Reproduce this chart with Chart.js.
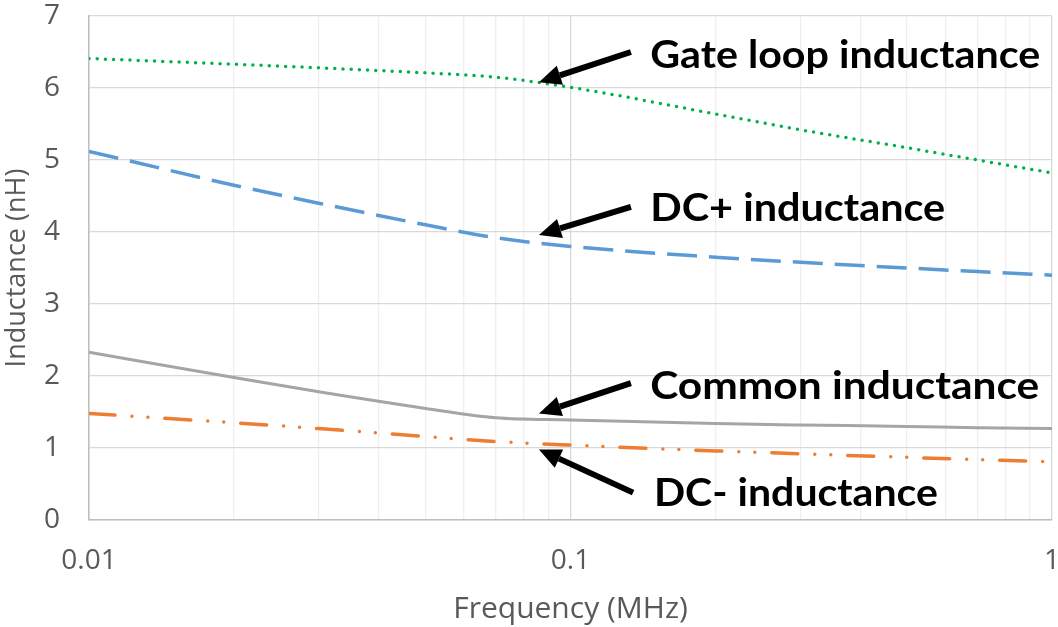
<!DOCTYPE html>
<html>
<head>
<meta charset="utf-8">
<script src="https://cdn.jsdelivr.net/npm/chart.js@4"></script>
<style>
html, body { margin: 0; padding: 0; background: #fff; }
#wrap { width: 1058px; height: 627px; }
</style>
</head>
<body>
<div id="wrap"><canvas id="c"></canvas></div>
<script>
// frequency points (MHz) and inductance values (nH)
const freqs      = [0.01, 0.02, 0.03, 0.05, 0.07, 0.1, 0.2, 0.3, 0.5, 0.7, 1];
const gateLoop   = [6.41, 6.33, 6.28, 6.21, 6.15, 6.01, 5.64, 5.42, 5.17, 5.00, 4.82];
const dcPlus     = [5.12, 4.65, 4.40, 4.10, 3.92, 3.80, 3.65, 3.58, 3.50, 3.45, 3.40];
const common     = [2.33, 1.98, 1.78, 1.55, 1.42, 1.39, 1.34, 1.32, 1.30, 1.28, 1.27];
const dcMinus    = [1.48, 1.35, 1.27, 1.16, 1.09, 1.04, 0.96, 0.92, 0.87, 0.84, 0.81];

// gridlines on the log axis, and the ones that carry a label
const xGrid   = [0.01, 0.02, 0.03, 0.04, 0.05, 0.06, 0.07, 0.08, 0.09,
                 0.1, 0.2, 0.3, 0.4, 0.5, 0.6, 0.7, 0.8, 0.9, 1];
const xLabels = [0.01, 0.1, 1];

// callouts: text anchor, arrow tail and arrow tip, in data units
const notes = [
    { text: 'Gate loop inductance', at: [0.1464, 6.28], from: [0.1335, 6.50], to: [0.086, 6.08], width: 390 },
    { text: 'DC+ inductance',       at: [0.1464, 4.15], from: [0.1335, 4.35], to: [0.086, 3.96], width: 295 },
    { text: 'Common inductance',    at: [0.1464, 1.68], from: [0.1335, 1.90], to: [0.086, 1.48], width: 389 },
    { text: 'DC- inductance',       at: [0.149, 0.20],  from: [0.1349, 0.38], to: [0.086, 0.98], width: 284 }
];

const toXY = vals => freqs.map((f, i) => ({ x: f, y: vals[i] }));

const notePlugin = {
    id: 'notes',
    afterDatasetsDraw(chart) {
        const ctx = chart.ctx;
        const xs = chart.scales.x, ys = chart.scales.y;
        notes.forEach(n => {
            const x0 = xs.getPixelForValue(n.from[0]), y0 = ys.getPixelForValue(n.from[1]);
            const x1 = xs.getPixelForValue(n.to[0]),   y1 = ys.getPixelForValue(n.to[1]);
            const ang = Math.atan2(y1 - y0, x1 - x0);
            const head = 22, half = 10;
            const bx = x1 - head * Math.cos(ang), by = y1 - head * Math.sin(ang);

            ctx.save();
            ctx.strokeStyle = '#000';
            ctx.fillStyle = '#000';
            ctx.lineWidth = 6;
            ctx.beginPath();
            ctx.moveTo(x0, y0);
            ctx.lineTo(bx, by);
            ctx.stroke();
            ctx.beginPath();
            ctx.moveTo(x1, y1);
            ctx.lineTo(bx + half * Math.sin(ang), by - half * Math.cos(ang));
            ctx.lineTo(bx - half * Math.sin(ang), by + half * Math.cos(ang));
            ctx.closePath();
            ctx.fill();

            ctx.font = "bold 39px 'Lato'";
            ctx.textBaseline = 'alphabetic';
            const w = ctx.measureText(n.text).width;
            ctx.translate(xs.getPixelForValue(n.at[0]), ys.getPixelForValue(n.at[1]));
            ctx.scale(n.width / w, 1);
            ctx.fillText(n.text, 0, 0);
            ctx.restore();
        });
    }
};

Chart.defaults.font.family = "'Open Sans', sans-serif";
Chart.defaults.color = '#595959';

new Chart(document.getElementById('c'), {
    type: 'line',
    data: {
        datasets: [
            {
                label: 'Gate loop inductance',
                data: toXY(gateLoop),
                borderColor: '#00B050',
                borderWidth: 3.5,
                borderDash: [0, 8.2],
                borderCapStyle: 'round',
                pointRadius: 0,
                cubicInterpolationMode: 'monotone'
            },
            {
                label: 'DC+ inductance',
                data: toXY(dcPlus),
                borderColor: '#5B9BD5',
                borderWidth: 3.5,
                borderDash: [30, 12],
                pointRadius: 0,
                cubicInterpolationMode: 'monotone'
            },
            {
                label: 'Common inductance',
                data: toXY(common),
                borderColor: '#A5A5A5',
                borderWidth: 3,
                pointRadius: 0,
                cubicInterpolationMode: 'monotone'
            },
            {
                label: 'DC- inductance',
                data: toXY(dcMinus),
                borderColor: '#ED7D31',
                borderWidth: 3.5,
                borderDash: [26, 17, 0, 16, 0, 17],
                borderCapStyle: 'round',
                pointRadius: 0,
                cubicInterpolationMode: 'monotone'
            }
        ]
    },
    options: {
        responsive: true,
        maintainAspectRatio: false,
        animation: false,
        layout: { padding: { top: 16, right: 6, left: 0, bottom: 0 } },
        plugins: {
            legend: { display: false },
            tooltip: { enabled: false }
        },
        scales: {
            x: {
                type: 'logarithmic',
                min: 0.01,
                max: 1,
                afterBuildTicks: scale => {
                    scale.ticks = xGrid.map(v => ({ value: v, major: xLabels.includes(v) }));
                },
                afterFit: scale => {
                    scale.height = 107;
                    scale.paddingLeft = 0;
                    scale.paddingRight = 0;
                },
                ticks: {
                    autoSkip: false,
                    maxRotation: 0,
                    padding: 24,
                    font: { size: 28 },
                    callback: v => xLabels.includes(v) ? String(v) : ''
                },
                grid: {
                    drawTicks: false,
                    lineWidth: 1.3,
                    color: c => (c.tick && xLabels.includes(c.tick.value)) ? '#D9D9D9' : '#EFEFEF'
                },
                border: { color: '#BFBFBF', width: 1.5 },
                title: {
                    display: true,
                    text: 'Frequency (MHz)',
                    font: { size: 30 },
                    padding: { top: 0, bottom: 0 }
                }
            },
            y: {
                min: 0,
                max: 7,
                afterFit: scale => {
                    scale.width = 89;
                    scale.paddingTop = 0;
                    scale.paddingBottom = 0;
                },
                ticks: {
                    stepSize: 1,
                    padding: 29,
                    font: { size: 28 }
                },
                grid: {
                    drawTicks: false,
                    lineWidth: 1.3,
                    color: '#D9D9D9'
                },
                border: { color: '#BFBFBF', width: 1.5 },
                title: {
                    display: true,
                    text: 'Inductance (nH)',
                    font: { size: 27 },
                    padding: { top: 1, bottom: 0 }
                }
            }
        }
    },
    plugins: [notePlugin]
});
</script>
</body>
</html>
